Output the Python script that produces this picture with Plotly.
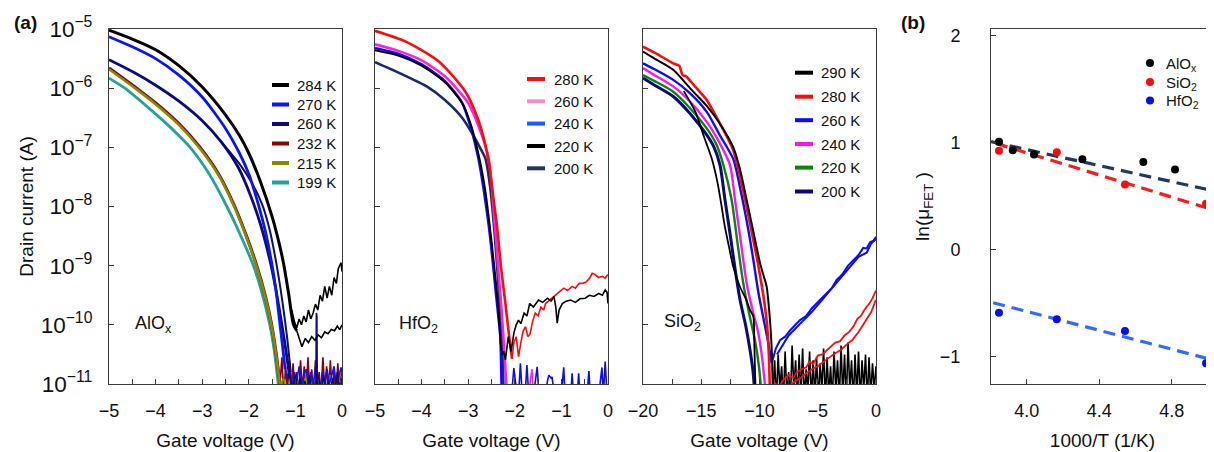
import plotly.graph_objects as go

# The page shows the figure with an 8px body margin, so the figure is laid out
# in page pixels and shifted by that offset.
OFF = 8
W, H = 1214 - OFF, 452 - OFF
TOP, BOT = 29, 384          # page y of plot top / bottom
MT, MB = TOP - OFF, H - (BOT - OFF)
FONT = "Arial, Liberation Sans, sans-serif"
AXC = "#3a3a3a"

# ================= DATA =================
# Panel (a) left: AlOx  -- gate voltage (V) vs log10 drain current (A)
alox_labels = ["284 K", "270 K", "260 K", "232 K", "215 K", "199 K"]
alox_colors = ["#000000", "#0a14ff", "#0b0b7a", "#8b0000", "#8a8a00", "#22a3a3"]

alox284_v = [-5, -4.5, -4, -3.5, -3, -2.5, -2.2, -2.0, -1.75, -1.5, -1.35, -1.25, -1.15, -1.04, -0.97]
alox284_i = [-5.02, -5.17, -5.35, -5.62, -5.98, -6.45, -6.8, -7.1, -7.58, -8.17, -8.62, -8.98, -9.45, -10.0, -10.1]
alox284_fwd_v = [-0.97, -0.9, -0.86, -0.79, -0.72, -0.65, -0.58, -0.51, -0.44, -0.37, -0.3, -0.23, -0.16, -0.1, -0.05, 0]
alox284_fwd_i = [-10.1, -10.25, -10.37, -10.23, -10.3, -10.2, -10.26, -10.17, -10.22, -10.12, -10.15, -10.08, -10.1, -10.02, -10.08, -10.0]
alox284_bwd_v = [0, -0.02, -0.04, -0.08, -0.12, -0.17, -0.22, -0.27, -0.32, -0.37, -0.42, -0.47, -0.52, -0.57, -0.62, -0.67, -0.72, -0.77, -0.82, -0.87, -0.92, -0.97, -1.02, -1.08]
alox284_bwd_i = [-9.1, -8.95, -8.98, -9.05, -9.3, -9.2, -9.5, -9.35, -9.55, -9.35, -9.6, -9.5, -9.75, -9.65, -9.8, -9.9, -9.75, -9.95, -9.85, -10.0, -9.9, -10.05, -9.95, -9.75]

alox270_v = [-5, -4.5, -4, -3.5, -3.0, -2.5, -2.2, -2.0, -1.8, -1.65, -1.51, -1.42, -1.33, -1.27, -1.22]
alox270_i = [-5.13, -5.3, -5.5, -5.78, -6.15, -6.68, -7.1, -7.45, -7.95, -8.4, -8.95, -9.4, -10.0, -10.4, -10.75]
alox270_n_v = [-1.22, -1.17, -1.12, -1.07, -1.02, -0.97, -0.92, -0.87, -0.82, -0.77, -0.72, -0.67, -0.62, -0.57, -0.52, -0.47, -0.42, -0.37, -0.32, -0.27, -0.22, -0.17, -0.12, -0.07, -0.02, 0]
alox270_n_i = [-10.75, -10.9, -10.7, -11.05, -10.8, -10.95, -10.7, -11.1, -10.85, -10.75, -11.0, -10.8, -11.05, -10.7, -10.9, -11.1, -10.8, -10.95, -10.75, -11.0, -10.85, -10.7, -11.05, -10.9, -10.72, -10.8]

alox260_v = [-5, -4.5, -4.0, -3.5, -3.0, -2.6, -2.22, -1.97, -1.75, -1.55, -1.42, -1.29, -1.2, -1.12]
alox260_i = [-5.52, -5.72, -5.95, -6.22, -6.55, -6.9, -7.35, -7.8, -8.3, -8.9, -9.4, -10.0, -10.45, -10.9]
alox260_b_v = [-2.6, -2.2, -1.95, -1.72, -1.55, -1.4, -1.28, -1.18, -1.1]
alox260_b_i = [-6.9, -7.28, -7.58, -7.95, -8.4, -9.0, -9.6, -10.2, -10.8]
alox260_n_v = [-1.12, -1.05, -1.0, -0.95, -0.9, -0.85, -0.8, -0.75, -0.7, -0.65, -0.6, -0.56, -0.55, -0.54, -0.53, -0.5, -0.45, -0.4, -0.35, -0.3, -0.25, -0.2, -0.15, -0.1, -0.05, 0]
alox260_n_i = [-10.9, -11.05, -10.85, -11.1, -10.9, -11.15, -10.95, -11.1, -10.85, -11.15, -11.0, -11.1, -9.8, -9.85, -11.1, -10.9, -11.15, -10.85, -11.1, -10.95, -11.15, -10.9, -11.1, -10.8, -11.15, -10.9]

alox232_v = [-5, -4.41, -4.0, -3.5, -3.05, -2.65, -2.33, -2.05, -1.83, -1.65, -1.51, -1.42, -1.33]
alox232_i = [-5.66, -6.0, -6.25, -6.6, -7.0, -7.45, -7.95, -8.5, -9.0, -9.5, -10.0, -10.45, -11.0]
alox232_n_v = [-1.33, -1.29, -1.25, -1.21, -1.17, -1.13, -1.09, -1.05, -1.01, -0.97, -0.93, -0.89, -0.85, -0.81, -0.77, -0.73, -0.69, -0.65, -0.61, -0.57, -0.53, -0.49, -0.45, -0.41, -0.37, -0.33, -0.29, -0.25, -0.21, -0.17, -0.13, -0.09, -0.05, -0.01]
alox232_n_i = [-11.0, -10.55, -11.2, -10.7, -11.1, -10.6, -11.2, -10.65, -11.15, -10.8, -11.2, -10.6, -11.1, -10.7, -11.2, -10.55, -11.15, -10.75, -11.2, -10.6, -11.1, -10.8, -11.2, -10.55, -11.1, -10.7, -11.2, -10.6, -11.15, -10.75, -11.2, -10.65, -11.1, -10.8]

alox215_v = [-5, -4.41, -4.0, -3.5, -3.05, -2.65, -2.33, -2.05, -1.83, -1.65, -1.51, -1.42, -1.33]
alox215_i = [-5.68, -6.02, -6.27, -6.62, -7.02, -7.47, -7.97, -8.52, -9.02, -9.52, -10.02, -10.47, -11.02]
alox215_n_v = [-1.33, -1.25, -1.18, -1.1, -1.02, -0.95, -0.86, -0.78, -0.7, -0.6, -0.5, -0.42, -0.33, -0.25, -0.16, -0.08, 0]
alox215_n_i = [-11.02, -10.9, -11.2, -10.85, -11.2, -10.95, -11.2, -10.88, -11.2, -10.9, -11.2, -10.95, -11.2, -10.85, -11.2, -10.92, -11.0]

alox199_v = [-5, -4.66, -4.2, -3.7, -3.26, -2.85, -2.47, -2.17, -1.9, -1.72, -1.55, -1.45, -1.37, -1.3]
alox199_i = [-5.83, -6.0, -6.3, -6.65, -7.0, -7.45, -8.0, -8.5, -9.0, -9.45, -10.0, -10.45, -11.0, -11.5]

# Panel (a) middle: HfO2
hfo_labels = ["280 K", "260 K", "240 K", "220 K", "200 K"]
hfo_swatch = ["#ff0a0a", "#ff8cc6", "#1f5cff", "#000000", "#1f3462"]
hfo_colors = ["#ff0a0a", "#ff1ee6", "#0a0aff", "#000000", "#1a2a6e"]

hfo280_v = [-5, -4.35, -3.63, -3.06, -2.8, -2.65, -2.55, -2.46, -2.38, -2.3, -2.2, -2.13, -2.06]
hfo280_i = [-5.03, -5.21, -5.55, -6.06, -6.5, -6.9, -7.3, -7.85, -8.35, -9.0, -9.65, -10.14, -10.57]
hfo280_n_v = [-2.06, -2.02, -1.97, -1.92, -1.87, -1.82, -1.77, -1.72, -1.67, -1.62, -1.56, -1.5, -1.44, -1.38, -1.34, -1.28, -1.2, -1.13, -1.05, -0.95, -0.87, -0.77, -0.7, -0.62, -0.56, -0.48, -0.4, -0.34, -0.28, -0.2, -0.12, -0.06, 0]
hfo280_n_i = [-10.57, -10.3, -10.2, -10.54, -10.3, -10.1, -10.03, -10.2, -10.15, -9.95, -9.8, -9.85, -9.7, -9.75, -9.64, -9.6, -9.55, -9.5, -9.45, -9.38, -9.42, -9.35, -9.38, -9.3, -9.3, -9.28, -9.22, -9.13, -9.15, -9.2, -9.18, -9.21, -9.15]

hfo260_v = [-5, -4.5, -4, -3.5, -3.0, -2.75, -2.56, -2.45, -2.36, -2.28, -2.22, -2.17]
hfo260_i = [-5.26, -5.37, -5.53, -5.8, -6.25, -6.7, -7.19, -8.1, -9.0, -9.8, -10.5, -11.2]
hfo260_n_v = [-2.17, -1.7, -1.66, -1.63, -1.6, -1.5, 0]
hfo260_n_i = [-11.2, -11.2, -10.9, -10.75, -11.2, -11.2, -11.2]

hfo240_v = [-5, -4.5, -4, -3.5, -3.13, -2.95, -2.78, -2.66, -2.56, -2.47, -2.4, -2.34, -2.31, -2.28]
hfo240_i = [-5.32, -5.42, -5.6, -5.88, -6.25, -6.65, -7.19, -7.75, -8.31, -8.95, -9.5, -9.95, -10.2, -11.2]
hfo240_n_v = [-2.28, -2.1, -2.05, -2.02, -1.98, -1.92, -1.88, -1.84, -1.78, -1.74, -1.7, -1.6, -1.55, -1.52, -1.48, -1.35, -1.3, -1.27, -1.22, -1.2, -1.15, -1.0, -0.97, -0.95, -0.92, -0.8, -0.77, -0.74, -0.66, -0.63, -0.6, -0.45, -0.41, -0.38, -0.2, -0.16, -0.13, -0.1, -0.06, -0.02, 0]
hfo240_n_i = [-11.2, -11.2, -11.0, -10.73, -11.0, -11.2, -10.65, -11.2, -11.2, -10.68, -11.2, -11.2, -10.9, -10.71, -11.2, -11.2, -10.95, -10.85, -10.9, -10.88, -11.2, -11.2, -10.9, -10.72, -11.2, -11.2, -10.82, -11.2, -11.2, -10.82, -11.2, -11.2, -10.78, -11.2, -11.2, -10.9, -10.72, -11.2, -10.62, -11.2, -11.2]

hfo220_v = [-5, -4.5, -4, -3.5, -3.13, -2.95, -2.77, -2.64, -2.54, -2.45, -2.38, -2.33]
hfo220_i = [-5.36, -5.45, -5.62, -5.9, -6.25, -6.6, -7.15, -7.7, -8.31, -8.95, -9.5, -10.0]
hfo220_n_v = [-2.33, -2.31, -2.27, -2.24, -2.2, -2.14, -2.08, -2.02, -1.97, -1.92, -1.87, -1.8, -1.74, -1.68, -1.6, -1.49, -1.4, -1.3, -1.22, -1.16, -1.12, -1.09, -1.05, -0.98, -0.9, -0.8, -0.7, -0.6, -0.49, -0.4, -0.3, -0.2, -0.12, -0.06, -0.02, 0]
hfo220_n_i = [-10.0, -10.3, -10.5, -10.45, -10.59, -10.2, -10.45, -10.14, -10.0, -9.92, -9.98, -9.8, -9.85, -9.64, -9.7, -9.58, -9.62, -9.55, -9.6, -9.52, -9.7, -9.97, -9.75, -9.64, -9.6, -9.58, -9.62, -9.56, -9.55, -9.5, -9.52, -9.47, -9.5, -9.41, -9.45, -9.64]

hfo200_v = [-5, -4.46, -3.89, -3.5, -3.13, -2.89, -2.75, -2.63, -2.53, -2.45, -2.38, -2.32, -2.27, -2.24]
hfo200_i = [-5.56, -5.75, -5.97, -6.2, -6.5, -6.8, -7.0, -7.19, -7.66, -8.3, -9.0, -9.7, -10.3, -11.2]

# Panel (a) right: SiO2
sio_labels = ["290 K", "280 K", "260 K", "240 K", "220 K", "200 K"]
sio_colors = ["#000000", "#ff0a0a", "#0a0aff", "#ff10ff", "#0a840a", "#0a0a78"]

sio290_v = [-20, -19, -17.4, -15.97, -14.53, -13.4, -12.25, -11.7, -11.1, -10.5, -9.96, -9.6, -9.39, -9.15, -8.96, -8.85]
sio290_i = [-5.38, -5.5, -5.69, -6.0, -6.3, -6.6, -7.0, -7.35, -7.89, -8.45, -8.95, -9.2, -9.35, -9.8, -10.37, -11.2]
sio290_b_v = [-16.5, -15.5, -14.8, -14.1, -13.6, -13.25, -13.0, -12.6, -12.25, -11.67, -11.2, -10.81, -10.53, -10.45, -10.38, -10.32]
sio290_b_i = [-6.05, -6.4, -6.8, -7.19, -7.6, -8.0, -8.31, -8.7, -9.02, -9.36, -9.55, -9.75, -9.86, -10.3, -10.8, -11.2]
sio290_n_v = [-8.85, -8.7, -8.55, -8.4, -8.25, -8.1, -7.95, -7.8, -7.65, -7.5, -7.35, -7.2, -7.05, -6.9, -6.75, -6.6, -6.45, -6.3, -6.15, -6.0,
              -5.85, -5.7, -5.55, -5.4, -5.25, -5.1, -4.95, -4.8, -4.65, -4.5, -4.35, -4.2, -4.05, -3.9, -3.75, -3.6, -3.45, -3.3, -3.15, -3.0,
              -2.85, -2.7, -2.55, -2.4, -2.25, -2.1, -1.95, -1.8, -1.65, -1.5, -1.35, -1.2, -1.05, -0.9, -0.75, -0.6, -0.45, -0.3, -0.15, 0.0]
sio290_n_i = [-11.2, -10.6, -11.3, -10.5, -11.1, -10.7, -11.3, -10.45, -11.2, -10.8,
              -11.3, -10.35, -11.1, -10.6, -11.3, -10.5, -11.2, -10.4, -11.3, -10.75,
              -11.1, -10.45, -11.3, -10.6, -11.2, -10.55, -11.3, -10.65, -11.1, -10.4,
              -11.3, -10.55, -11.2, -10.7, -11.3, -10.45, -11.1, -10.6, -11.3, -10.35,
              -11.2, -10.5, -11.3, -10.3, -11.1, -10.6, -11.3, -10.5, -11.2, -10.45,
              -11.3, -10.6, -11.1, -10.5, -11.3, -10.55, -11.2, -10.65, -11.1, -10.7]

sio280_v = [-20, -19, -17.4, -16.9, -16.6, -16.3, -15.5, -14.53, -13.39, -12.25, -11.39, -10.7, -10.1, -9.6, -9.35, -9.2, -9.1]
sio280_i = [-5.3, -5.4, -5.58, -5.62, -5.78, -5.8, -5.98, -6.2, -6.6, -7.05, -7.75, -8.4, -9.0, -9.6, -10.0, -10.5, -11.2]
sio280_r1_v = [-9.1, -8.7, -8.3, -7.96, -7.5, -7.1, -6.81, -6.4, -6.0, -5.7, -5.38, -5.0, -4.6, -4.23, -3.9, -3.5, -3.09, -2.7, -2.3, -1.94, -1.6, -1.3, -1.0, -0.8, -0.5, -0.3, -0.1, 0]
sio280_r1_i = [-11.2, -10.98, -11.05, -10.93, -10.85, -10.9, -10.8, -10.75, -10.72, -10.62, -10.66, -10.52, -10.5, -10.43, -10.38, -10.3, -10.28, -10.18, -10.12, -10.03, -9.9, -9.85, -9.75, -9.7, -9.62, -9.55, -9.45, -9.42]
sio280_r2_v = [-7.8, -7.3, -6.9, -6.5, -6.0, -5.5, -5.0, -4.5, -4.0, -3.5, -3.0, -2.5, -2.0, -1.5, -1.1, -0.7, -0.4, -0.1, 0]
sio280_r2_i = [-11.2, -11.0, -10.95, -10.9, -10.82, -10.75, -10.7, -10.62, -10.55, -10.48, -10.42, -10.33, -10.25, -10.12, -10.0, -9.88, -9.78, -9.62, -9.58]

sio260_v = [-20, -19, -17.4, -16, -14.53, -13.39, -12.25, -11.6, -11.0, -10.53, -10.1, -9.6, -9.25, -8.95]
sio260_i = [-5.58, -5.68, -5.86, -6.08, -6.4, -6.8, -7.2, -7.75, -8.35, -8.9, -9.45, -9.95, -10.3, -10.65]
sio260_r1_v = [-8.95, -8.6, -8.24, -7.8, -7.4, -7.0, -6.52, -6.0, -5.5, -4.81, -4.3, -3.8, -3.38, -2.9, -2.4, -1.94, -1.5, -1.1, -0.8, -0.5, -0.2, 0]
sio260_r1_i = [-10.65, -10.4, -10.26, -10.2, -10.1, -10.02, -9.92, -9.85, -9.72, -9.58, -9.48, -9.38, -9.24, -9.15, -9.0, -8.9, -8.82, -8.7, -8.71, -8.6, -8.58, -8.51]
sio260_r2_v = [-8.5, -7.5, -6.5, -5.5, -4.5, -3.5, -2.5, -1.5, -0.8, -0.4, 0]
sio260_r2_i = [-10.5, -10.18, -9.98, -9.78, -9.55, -9.32, -9.08, -8.85, -8.78, -8.62, -8.55]

sio240_v = [-20, -19, -17.4, -16, -14.53, -13.5, -12.53, -12.1, -11.6, -11.1, -10.6, -10.1, -9.75, -9.44]
sio240_i = [-5.66, -5.78, -5.97, -6.22, -6.57, -6.9, -7.3, -7.89, -8.6, -9.3, -9.75, -10.14, -10.6, -11.2]

sio220_v = [-20, -19, -17.4, -16, -14.53, -13.7, -13.1, -12.39, -11.9, -11.39, -10.9, -10.39, -10.05, -9.81]
sio220_i = [-5.78, -5.88, -6.06, -6.33, -6.68, -6.95, -7.3, -7.89, -8.6, -9.3, -9.8, -10.26, -10.7, -11.2]

sio200_v = [-20, -19, -17.4, -16, -14.53, -13.9, -13.39, -12.96, -12.5, -12.1, -11.67, -11.2, -10.81, -10.55, -10.4]
sio200_i = [-5.83, -5.95, -6.14, -6.42, -6.79, -7.0, -7.3, -7.89, -8.5, -9.05, -9.58, -10.0, -10.43, -10.8, -11.2]

# Panel (b): Arrhenius plot, 1000/T (1/K) vs ln(mu_FET)
arr_names = ["AlO<sub>x</sub>", "SiO<sub>2</sub>", "HfO<sub>2</sub>"]
arr_colors = ["#000000", "#ff0a0a", "#0a0aff"]
alox_invT = [3.847, 3.923, 4.040, 4.307, 4.643, 4.818, 5.011]
alox_lnmu = [1.01, 0.93, 0.89, 0.845, 0.82, 0.75, 0.54]
sio2_invT = [3.847, 4.166, 4.542, 4.989]
sio2_lnmu = [0.925, 0.91, 0.61, 0.43]
hfo2_invT = [3.847, 4.166, 4.542, 4.989]
hfo2_lnmu = [-0.59, -0.65, -0.76, -1.06]
# linear fits (end points)
fit_colors = ["#1f3a5f", "#ff1a1a", "#2f6bff"]
alox_fit_x = [3.803, 5.033]
alox_fit_y = [1.01, 0.549]
sio2_fit_x = [3.83, 5.033]
sio2_fit_y = [0.994, 0.371]
hfo2_fit_x = [3.815, 4.993]
hfo2_fit_y = [-0.495, -1.015]

# ================= FIGURE =================
fig = go.Figure()


def curve(ax, v, lg, color, width=2.6, smooth=False):
    assert len(v) == len(lg), (len(v), len(lg))
    line = dict(color=color, width=width)
    if smooth:
        line.update(shape="spline", smoothing=0.7)
    fig.add_trace(go.Scatter(
        x=v, y=[10 ** g for g in lg], mode="lines", line=line,
        xaxis="x" + ax, yaxis="y" + ax, showlegend=False, hoverinfo="skip"))


NW = 1.6
# AlOx
c = alox_colors
curve("", alox199_v, alox199_i, c[5], 2.8, True)
curve("", alox232_v, alox232_i, c[3], 3.2, True)
curve("", alox232_n_v, alox232_n_i, c[3], NW)
curve("", alox215_v, alox215_i, c[4], 2.6, True)
curve("", alox215_n_v, alox215_n_i, c[4], NW)
curve("", alox270_n_v, alox270_n_i, c[1], NW)
curve("", alox260_n_v, alox260_n_i, c[2], NW)
curve("", alox260_v, alox260_i, c[2], 2.8, True)
curve("", alox260_b_v, alox260_b_i, c[2], 2.0, True)
curve("", alox270_v, alox270_i, c[1], 2.8, True)
curve("", alox284_v, alox284_i, c[0], 3.0, True)
curve("", alox284_fwd_v, alox284_fwd_i, c[0], NW)
curve("", alox284_bwd_v, alox284_bwd_i, c[0], NW)

# HfO2
c = hfo_colors
curve("2", hfo240_n_v, hfo240_n_i, c[2], NW)
curve("2", hfo260_n_v, hfo260_n_i, c[1], NW)
curve("2", hfo200_v, hfo200_i, c[4], 2.6, True)
curve("2", hfo240_v, hfo240_i, c[2], 2.6, True)
curve("2", hfo220_v, hfo220_i, c[3], 2.0, True)
curve("2", hfo260_v, hfo260_i, c[1], 2.6, True)
curve("2", hfo280_v, hfo280_i, c[0], 2.6, True)
curve("2", hfo280_n_v, hfo280_n_i, c[0], NW)
curve("2", hfo220_n_v, hfo220_n_i, c[3], NW)

# SiO2
c = sio_colors
curve("3", sio290_n_v, sio290_n_i, c[0], NW)
curve("3", sio200_v, sio200_i, c[5], 3.0, True)
curve("3", sio220_v, sio220_i, c[4], 2.4, True)
curve("3", sio240_v, sio240_i, c[3], 2.4, True)
curve("3", sio260_v, sio260_i, c[2], 2.4, True)
curve("3", sio260_r1_v, sio260_r1_i, c[2], 2.0)
curve("3", sio260_r2_v, sio260_r2_i, c[2], 2.0)
curve("3", sio290_b_v, sio290_b_i, c[0], 1.8, True)
curve("3", sio280_v, sio280_i, c[1], 2.6, True)
curve("3", sio280_r1_v, sio280_r1_i, c[1], 1.8)
curve("3", sio280_r2_v, sio280_r2_i, c[1], 1.8)
curve("3", sio290_v, sio290_i, c[0], 2.0, True)

# Panel (b)
for fx, fy, fc in [(alox_fit_x, alox_fit_y, fit_colors[0]),
                   (sio2_fit_x, sio2_fit_y, fit_colors[1]),
                   (hfo2_fit_x, hfo2_fit_y, fit_colors[2])]:
    fig.add_trace(go.Scatter(x=fx, y=fy, mode="lines", xaxis="x4", yaxis="y4",
                             line=dict(color=fc, width=3.2, dash="12px,7px"),
                             showlegend=False, hoverinfo="skip"))
for nm, xs, ys, col in [(arr_names[0], alox_invT, alox_lnmu, arr_colors[0]),
                        (arr_names[1], sio2_invT, sio2_lnmu, arr_colors[1]),
                        (arr_names[2], hfo2_invT, hfo2_lnmu, arr_colors[2])]:
    fig.add_trace(go.Scatter(x=xs, y=ys, mode="markers", name=nm, xaxis="x4", yaxis="y4",
                             marker=dict(color=col, size=8), cliponaxis=False, showlegend=False))


# ---------- helpers: page pixels -> paper coordinates ----------
def px(x):
    return (x - OFF) / W


def py(y):
    return (BOT - y) / (BOT - TOP)


shapes, annots = [], []


def label(text, x, y, size=15, xanchor="left"):
    annots.append(dict(text=text, xref="paper", yref="paper", x=px(x), y=py(y),
                       xanchor=xanchor, yanchor="middle", showarrow=False,
                       font=dict(size=size, color="#111", family=FONT)))


def legend_block(labels, colors, x0, x1, xt, ys):
    for lab, col, yy in zip(labels, colors, ys):
        shapes.append(dict(type="line", xref="paper", yref="paper",
                           x0=px(x0), x1=px(x1), y0=py(yy), y1=py(yy),
                           line=dict(color=col, width=4)))
        label(lab, xt, yy)


legend_block(alox_labels, alox_colors, 272, 289, 295, [85, 104.5, 124, 143.5, 163, 182.5])
legend_block(hfo_labels, hfo_swatch, 527, 545, 552, [79, 101.3, 123.6, 146, 168.3])
legend_block(sio_labels, sio_colors, 795, 813, 819, [72.7, 96.7, 120.2, 144, 167.6, 191.5])

for nm, col, yy in zip(arr_names, arr_colors, [63, 82, 100.5]):
    shapes.append(dict(type="circle", xref="paper", yref="paper",
                       x0=px(1146), x1=px(1154), y0=py(yy - 4), y1=py(yy + 4),
                       fillcolor=col, line=dict(color=col, width=0)))
    label(nm, 1164, yy + 1.5)

label("AlO<sub>x</sub>", 133, 324, 18)
label("HfO<sub>2</sub>", 397, 324, 18)
label("SiO<sub>2</sub>", 662, 322, 18)
label("<b>(a)</b>", 25, 22, 19, "center")
label("<b>(b)</b>", 913, 22, 19, "center")

# ---------- axes ----------
tickfont = dict(size=18, color="#111", family=FONT)
titlefont = dict(size=19, color="#111", family=FONT)
common = dict(showline=True, mirror=True, linecolor=AXC, linewidth=1, ticks="inside",
              ticklen=5, tickcolor=AXC, showgrid=False, zeroline=False, tickfont=tickfont,
              automargin=False)


def xax(x0, x1, rng, dtick, minor, title, anchor):
    return dict(common, domain=[px(x0), px(x1)], range=rng, dtick=dtick, tick0=0, anchor=anchor,
                minor=dict(ticks="inside", dtick=minor, ticklen=5, tickcolor=AXC),
                title=dict(text=title, font=titlefont, standoff=14), ticklabelstandoff=10)


def yax(anchor, labels):
    return dict(common, type="log", range=[-11, -5], dtick=1, anchor=anchor, domain=[0, 1],
                showticklabels=labels, exponentformat="power", ticklabelstandoff=12)


fig.update_layout(
    template="none",
    width=W, height=H, margin=dict(l=0, r=0, t=MT, b=MB, autoexpand=False),
    paper_bgcolor="white", plot_bgcolor="white", font=dict(family=FONT, color="#111"),
    xaxis=xax(109, 342, [-5, 0], 1, 0.5, "Gate voltage (V)", "y"),
    xaxis2=xax(375, 608, [-5, 0], 1, 0.5, "Gate voltage (V)", "y2"),
    xaxis3=xax(643, 876, [-20, 0], 5, 2.5, "Gate voltage (V)", "y3"),
    xaxis4=dict(common, domain=[px(991), 1.0], range=[3.803, 5.033], dtick=0.4, tick0=4.0,
                tickformat=".1f", ticklabelstandoff=10, anchor="y4",
                title=dict(text="1000/T (1/K)", font=titlefont, standoff=14)),
    yaxis=dict(yax("x", True), title=dict(text="Drain current (A)", font=titlefont, standoff=2)),
    yaxis2=yax("x2", False),
    yaxis3=yax("x3", False),
    yaxis4=dict(common, domain=[0, 1], range=[-1.255, 2.063], dtick=1, anchor="x4",
                ticklabelstandoff=26,
                title=dict(text="ln(μ<sub>FET</sub> )", font=titlefont, standoff=5)),
    shapes=shapes, annotations=annots, showlegend=False,
)

fig.write_html("out.html")
